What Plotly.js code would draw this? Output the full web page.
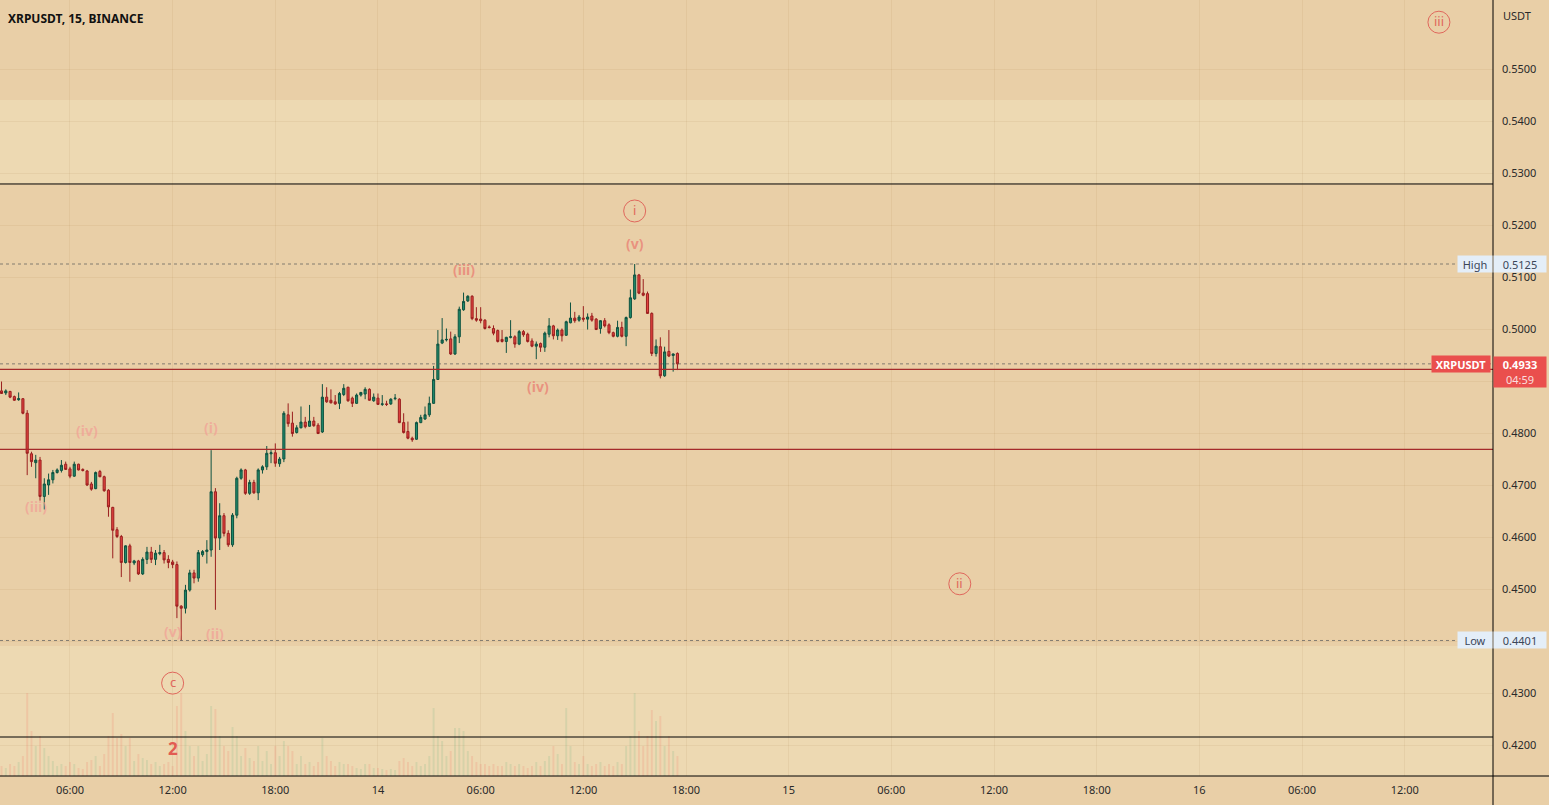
<!DOCTYPE html>
<html><head><meta charset="utf-8">
<script src="https://cdn.plot.ly/plotly-3.0.1.min.js"></script>
<style>html,body{margin:0;padding:0;background:#E8CFA6;}#chart{width:1549px;height:805px;}</style>
</head><body><div id="chart"></div>
<script>
// ---- data ----
const symbolTitle = 'XRPUSDT, 15, BINANCE';
const barStart = '2023-03-13T02:00:00Z';
const barMinutes = 15;
const openPrices = [
.4881,.4877,.4880,.4870,.4864,.4866,.4838,.4760,.4743,.4748,.4678,.4700,.4710,.4724,.4728,.4740,.4731,.4717,.4740,.4730,
.4727,.4702,.4693,.4726,.4716,.4690,.4657,.4614,.4601,.4551,.4583,.4550,.4554,.4529,.4557,.4571,.4557,.4568,.4570,.4557,
.4552,.4547,.4467,.4463,.4498,.4531,.4521,.4566,.4572,.4575,.4687,.4598,.4641,.4607,.4585,.4642,.4713,.4729,.4684,.4705,
.4685,.4729,.4735,.4760,.4762,.4741,.4750,.4835,.4819,.4801,.4810,.4821,.4813,.4823,.4815,.4802,.4869,.4863,.4860,.4857,
.4874,.4888,.4867,.4857,.4873,.4875,.4884,.4862,.4867,.4855,.4856,.4856,.4866,.4865,.4820,.4803,.4790,.4788,.4820,.4827,
.4835,.4857,.4903,.4973,.4979,.4981,.4952,.4985,.5037,.5054,.5063,.5020,.5019,.5017,.5004,.5001,.4997,.4980,.4976,.4984,
.4985,.4971,.4995,.4990,.4977,.4967,.4972,.4965,.4990,.5006,.4987,.4998,.4988,.5012,.5021,.5017,.5021,.5019,.5025,.5019,
.5001,.5016,.5008,.4993,.4986,.5003,.4986,.5022,.5058,.5104,.5069,.5068,.5030,.4953,.4966,.4910,.4957,.4949,.4953];
const highPrices = [
.4899,.4884,.4881,.4872,.4878,.4867,.4844,.4764,.4758,.4754,.4713,.4722,.4729,.4732,.4748,.4745,.4735,.4745,.4741,.4732,
.4729,.4706,.4726,.4729,.4718,.4692,.4658,.4619,.4604,.4584,.4587,.4556,.4556,.4561,.4581,.4581,.4575,.4585,.4575,.4565,
.4556,.4553,.4469,.4508,.4537,.4537,.4575,.4575,.4594,.4767,.4694,.4665,.4646,.4613,.4646,.4716,.4732,.4731,.4710,.4710,
.4732,.4738,.4775,.4767,.4780,.4754,.4842,.4857,.4841,.4815,.4851,.4831,.4854,.4831,.4819,.4894,.4888,.4884,.4873,.4879,
.4894,.4889,.4870,.4876,.4879,.4888,.4886,.4876,.4876,.4873,.4862,.4867,.4875,.4867,.4838,.4822,.4793,.4822,.4835,.4851,
.4870,.4929,.4998,.5021,.5001,.4995,.4990,.5043,.5070,.5065,.5065,.5042,.5042,.5019,.5007,.5007,.4999,.4998,.4985,.5017,
.4988,.4998,.4998,.4993,.4982,.4976,.4974,.4995,.5021,.5008,.5001,.5001,.5016,.5051,.5033,.5027,.5044,.5030,.5031,.5021,
.5017,.5021,.5011,.4995,.5016,.5014,.5024,.5076,.5125,.5106,.5096,.5072,.5032,.4980,.4984,.4966,.4998,.4953,.4955];
const lowPrices = [
.4875,.4873,.4867,.4862,.4862,.4836,.4719,.4735,.4713,.4670,.4653,.4681,.4703,.4722,.4724,.4729,.4713,.4716,.4728,.4726,
.4698,.4689,.4692,.4715,.4687,.4639,.4559,.4598,.4523,.4549,.4514,.4546,.4527,.4527,.4548,.4550,.4546,.4565,.4549,.4540,
.4540,.4444,.4401,.4453,.4495,.4511,.4514,.4562,.4549,.4562,.4460,.4575,.4601,.4581,.4581,.4636,.4710,.4681,.4681,.4683,
.4671,.4722,.4729,.4742,.4735,.4735,.4744,.4812,.4793,.4799,.4809,.4809,.4812,.4812,.4798,.4800,.4858,.4857,.4854,.4846,
.4871,.4860,.4850,.4856,.4870,.4865,.4862,.4860,.4854,.4852,.4852,.4854,.4863,.4819,.4799,.4788,.4783,.4787,.4819,.4825,
.4831,.4856,.4902,.4971,.4976,.4950,.4950,.4973,.5035,.5052,.5017,.5014,.5011,.4999,.5001,.4988,.4974,.4974,.4954,.4982,
.4964,.4969,.4985,.4974,.4965,.4942,.4956,.4956,.4984,.4980,.4979,.4976,.4987,.5011,.5012,.5014,.5014,.4999,.5014,.4998,
.4991,.5003,.4990,.4984,.4984,.4984,.4967,.5020,.5056,.5067,.5063,.5029,.4948,.4947,.4905,.4908,.4946,.4918,.4921];
const closePrices = [
.4876,.4881,.4869,.4863,.4866,.4838,.4761,.4745,.4748,.4678,.4702,.4710,.4724,.4729,.4738,.4730,.4717,.4740,.4729,.4728,
.4700,.4692,.4724,.4716,.4689,.4658,.4613,.4601,.4551,.4583,.4551,.4554,.4529,.4557,.4571,.4557,.4569,.4570,.4556,.4551,
.4547,.4467,.4463,.4498,.4531,.4521,.4570,.4572,.4575,.4687,.4598,.4641,.4607,.4585,.4642,.4713,.4729,.4684,.4705,.4685,
.4729,.4735,.4761,.4762,.4742,.4750,.4838,.4818,.4799,.4810,.4821,.4812,.4823,.4814,.4799,.4869,.4860,.4858,.4856,.4876,
.4886,.4862,.4857,.4873,.4878,.4884,.4863,.4869,.4855,.4856,.4855,.4865,.4867,.4820,.4801,.4790,.4787,.4820,.4830,.4835,
.4857,.4903,.4971,.4979,.4980,.4952,.4985,.5038,.5053,.5063,.5020,.5017,.5016,.5001,.5003,.4992,.4976,.4976,.4984,.4985,
.4971,.4995,.4989,.4976,.4967,.4971,.4965,.4992,.5006,.4987,.4998,.4987,.5014,.5021,.5016,.5023,.5019,.5023,.5017,.4999,
.5016,.5006,.4993,.4986,.5003,.4986,.5022,.5060,.5104,.5069,.5065,.5030,.4953,.4967,.4910,.4956,.4948,.4952,.4933];
const volumeK = [
100,80,120,100,140,200,830,
450,300,400,280,200,150,100,120,100,140,120,80,70,140,160,200,100,220,
400,630,380,420,300,380,150,220,180,160,120,140,100,120,140,100,
700,830,450,300,200,300,150,220,
700,670,400,300,250,490,400,200,280,180,150,300,150,250,120,300,200,350,
300,250,120,200,120,140,100,140,380,200,150,100,140,120,120,100,80,70,120,120,80,80,70,60,70,60,150,180,140,100,140,100,120,200,
680,400,350,200,250,480,480,450,250,200,140,120,120,100,120,100,100,140,120,100,120,100,80,100,140,100,150,200,300,220,120,
680,300,140,120,200,120,100,120,140,100,120,100,140,120,300,400,830,450,300,400,660,550,600,300,400,250,200];
const xTickTimes = ['2023-03-13 06:00','2023-03-13 12:00','2023-03-13 18:00','2023-03-14 00:00','2023-03-14 06:00','2023-03-14 12:00','2023-03-14 18:00',
  '2023-03-15 00:00','2023-03-15 06:00','2023-03-15 12:00','2023-03-15 18:00','2023-03-16 00:00','2023-03-16 06:00','2023-03-16 12:00'];
const xTickLabels = ['06:00','12:00','18:00','14','06:00','12:00','18:00','15','06:00','12:00','18:00','16','06:00','12:00'];
const yTickValues = [0.42,0.43,0.44,0.45,0.46,0.47,0.48,0.49,0.50,0.51,0.52,0.53,0.54,0.55];
const yTickLabels = ['0.4200','0.4300','0.4400','0.4500','0.4600','0.4700','0.4800','','0.5000','0.5100','0.5200','0.5300','0.5400','0.5500'];
const countdownText = '04:59';
// drawn levels (TradingView drawings)
const redLevels = [0.49225, 0.47687];
const blackLevels = [0.52789, 0.42154];
const lightZones = [[0.52789, 0.54404], [0.41404, 0.43904]];
// wave labels
const waveLabels = [
  {t:'(iii)', x:'2023-03-13 04:00', y:0.4658, c:'pale'},
  {t:'(iv)',  x:'2023-03-13 07:00', y:0.4804, c:'pale'},
  {t:'(v)',   x:'2023-03-13 12:00', y:0.4419, c:'pale'},
  {t:'(i)',   x:'2023-03-13 14:15', y:0.4810, c:'pale'},
  {t:'(ii)',  x:'2023-03-13 14:30', y:0.4414, c:'pale'},
  {t:'(iii)', x:'2023-03-14 05:00', y:0.5114, c:'mid'},
  {t:'(iv)',  x:'2023-03-14 09:20', y:0.4889, c:'mid'},
  {t:'(v)',   x:'2023-03-14 15:00', y:0.5165, c:'mid'}
];
const circledLabels = [
  {t:'c',   x:'2023-03-13 12:00', y:0.4319},
  {t:'i',   x:'2023-03-14 15:00', y:0.5227},
  {t:'ii',  x:'2023-03-15 10:00', y:0.4510},
  {t:'iii', x:'2023-03-16 14:00', y:0.5590}
];
const degreeLabels = [{t:'2', x:'2023-03-13 12:00', y:0.4194}];

// ---- build ----
const t0 = Date.parse(barStart);
const fmt = d => d.toISOString().slice(0,16).replace('T',' ');
const barTimes = openPrices.map((_, i) => fmt(new Date(t0 + i*barMinutes*60000)));
const lastClose = closePrices[closePrices.length-1];
const dayHigh = Math.max(...highPrices);
const dayLow = Math.min(...lowPrices);

const BG = '#E9CFA7', LIGHT = '#EDD9B2', GRID = 'rgba(150,110,50,0.09)';
const FONT = 'Noto Sans, Roboto, sans-serif';
const PALE = 'rgba(242,160,150,0.72)', MID = 'rgba(234,135,120,0.85)', CIRC = '#E0675C';

const candles = {
  type:'candlestick', x:barTimes, open:openPrices, high:highPrices, low:lowPrices, close:closePrices,
  increasing:{line:{color:'#0E5240', width:1}, fillcolor:'#1F8A69'},
  decreasing:{line:{color:'#9A1F1F', width:1}, fillcolor:'#E2433F'},
  whiskerwidth:0, hoverinfo:'skip', showlegend:false, xaxis:'x', yaxis:'y'
};
const volumes = {
  type:'bar', x:barTimes, y:volumeK, yaxis:'y2', xaxis:'x',
  marker:{color: closePrices.map((c,i)=> c>=openPrices[i] ? 'rgba(60,160,110,0.13)' : 'rgba(240,100,90,0.16)'), line:{width:0}},
  width: barMinutes*60000*0.45, hoverinfo:'skip', showlegend:false
};

const shapes = [];
lightZones.forEach(z => shapes.push({type:'rect', xref:'paper', yref:'y', x0:0, x1:1, y0:z[0], y1:z[1], fillcolor:LIGHT, line:{width:0}, layer:'below'}));
blackLevels.forEach(v => shapes.push({type:'line', xref:'paper', yref:'y', x0:0, x1:1, y0:v, y1:v, line:{color:'#000', width:1}}));
redLevels.forEach(v => shapes.push({type:'line', xref:'paper', yref:'y', x0:0, x1:1, y0:v, y1:v, line:{color:'#A52A2A', width:1.3}}));
[dayHigh, dayLow, lastClose].forEach(v => shapes.push({type:'line', xref:'paper', yref:'y', x0:0, x1:1, y0:v, y1:v, line:{color:'rgba(90,90,90,0.7)', width:1, dash:'dot'}}));
// axis frame lines
shapes.push({type:'line', xref:'paper', yref:'paper', x0:1, x1:1, y0:-29/776, y1:1, line:{color:'#000', width:1}});
shapes.push({type:'line', xref:'paper', yref:'paper', x0:0, x1:1549/1493, y0:0, y1:0, line:{color:'#000', width:1}});
circledLabels.forEach(l => shapes.push({type:'circle', xref:'x', yref:'y', xsizemode:'pixel', ysizemode:'pixel', xanchor:l.x, yanchor:l.y, x0:-11, x1:11, y0:-11, y1:11, line:{color:CIRC, width:1}}));

const ann = [];
ann.push({xref:'paper', yref:'paper', x:0, y:1, xanchor:'left', yanchor:'top', xshift:6, yshift:-8, text:'<b>'+symbolTitle+'</b>', showarrow:false, font:{family:FONT, size:12, color:'#111'}});
ann.push({xref:'paper', yref:'paper', x:1, y:1, xanchor:'left', yanchor:'top', xshift:8, yshift:-6, text:'USDT', showarrow:false, font:{family:FONT, size:11, color:'#2a2a2a'}});
waveLabels.forEach(l => ann.push({xref:'x', yref:'y', x:l.x, y:l.y, text:'<b>'+l.t+'</b>', showarrow:false, font:{family:FONT, size:14, color: l.c==='pale'?PALE:MID}}));
circledLabels.forEach(l => ann.push({xref:'x', yref:'y', x:l.x, y:l.y, text:l.t, showarrow:false, yshift:1, font:{family:FONT, size:13, color:CIRC}}));
degreeLabels.forEach(l => ann.push({xref:'x', yref:'y', x:l.x, y:l.y, text:'<b>'+l.t+'</b>', showarrow:false, font:{family:FONT, size:17, color:'#E25C52'}}));
// High / Low tags
const TAGBG = '#E4EEF8', TAGTX = '#3b4658';
[[dayHigh,'High'],[dayLow,'Low']].forEach(([v,name]) => {
  ann.push({xref:'paper', yref:'y', x:1, y:v, xanchor:'right', yanchor:'middle', text:name, showarrow:false, bgcolor:TAGBG, width:34, height:16, borderpad:0, font:{family:FONT, size:11, color:TAGTX}});
  ann.push({xref:'paper', yref:'y', x:1, y:v, xanchor:'left', yanchor:'middle', text:v.toFixed(4), showarrow:false, bgcolor:TAGBG, width:52, height:16, borderpad:0, font:{family:FONT, size:11, color:TAGTX}});
});
// last price tags
ann.push({xref:'paper', yref:'y', x:1, y:lastClose, xanchor:'right', yanchor:'middle', xshift:-2, text:'<b>XRPUSDT</b>', showarrow:false, bgcolor:'#EA4F4D', width:58, height:16, borderpad:0, font:{family:FONT, size:11, color:'#fff'}});
ann.push({xref:'paper', yref:'y', x:1, y:lastClose, xanchor:'left', yanchor:'top', yshift:8, text:'<b>'+lastClose.toFixed(4)+'</b><br><span style="color:rgba(255,255,255,0.82)">'+countdownText+'</span>', showarrow:false, bgcolor:'#EA4F4D', width:52, height:30, borderpad:0, font:{family:FONT, size:11, color:'#fff'}});

const layout = {
  width:1549, height:805, margin:{l:0, r:56, t:0, b:29},
  paper_bgcolor:BG, plot_bgcolor:BG, showlegend:false, dragmode:false, hovermode:false,
  xaxis:{type:'date', range:['2023-03-13 01:54:40','2023-03-16 17:09:36'], tickvals:xTickTimes, ticktext:xTickLabels,
    showgrid:true, gridcolor:GRID, gridwidth:1, zeroline:false, showline:false, ticks:'', ticklabelstandoff:6,
    tickfont:{family:FONT, size:11, color:'#2a2a2a'}, rangeslider:{visible:false}, fixedrange:true},
  yaxis:{side:'right', range:[0.41404, 0.56327], tickvals:yTickValues, ticktext:yTickLabels,
    showgrid:true, gridcolor:GRID, gridwidth:1, zeroline:false, showline:false, ticks:'', ticklabelstandoff:8,
    tickfont:{family:FONT, size:11, color:'#2a2a2a'}, fixedrange:true},
  yaxis2:{overlaying:'y', range:[0, 7760], visible:false, fixedrange:true},
  bargap:0.3,
  shapes:shapes, annotations:ann
};
Plotly.newPlot('chart', [volumes, candles], layout, {displayModeBar:false, staticPlot:true});
</script></body></html>
